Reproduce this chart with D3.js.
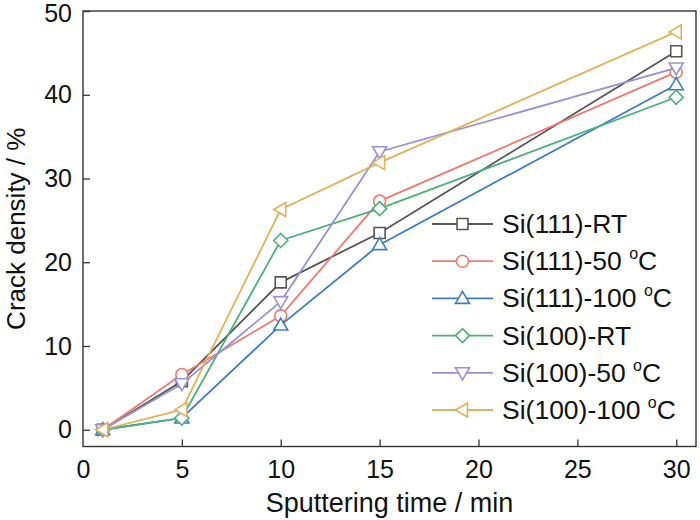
<!DOCTYPE html>
<html><head><meta charset="utf-8">
<script src="https://cdn.jsdelivr.net/npm/d3@7"></script>
<style>body{margin:0;background:#fff}svg{display:block;font-family:"Liberation Sans",Arial,sans-serif}</style>
</head><body><svg id="c" width="700" height="520"></svg>
<script>
const times = [1, 5, 10, 15, 30];
const xTicks = [0, 5, 10, 15, 20, 25, 30];
const yTicks = [0, 10, 20, 30, 40, 50];
const seriesNames = ["Si(111)-RT", "Si(111)-50 °C", "Si(111)-100 °C", "Si(100)-RT", "Si(100)-50 °C", "Si(100)-100 °C"];
const si111RT  = [0, 5.8, 17.6, 23.5, 45.2];
const si111_50 = [0, 6.6, 13.6, 27.3, 42.7];
const si111_100 = [0, 1.4, 12.5, 22.1, 41.2];
const si100RT  = [0, 1.4, 22.6, 26.4, 39.7];
const si100_50 = [0, 5.5, 15.3, 33.2, 43.2];
const si100_100 = [0, 2.4, 26.3, 31.9, 47.5];
const seriesValues = [si111RT, si111_50, si111_100, si100RT, si100_50, si100_100];
const colors = ["#555555", "#ee7b6f", "#3d7cc4", "#4daf7c", "#9a90d4", "#e3b15c"];
const markerTypes = ["square", "circle", "up", "diamond", "down", "left"];

const svg = d3.select("#c");
const L = 83, R = 696, T = 11, B = 446.5;
const x = d3.scaleLinear().domain([0, 31]).range([L, R]);
const y = d3.scaleLinear().domain([-2, 50]).range([B, T]);

function markerPath(t) {
  const p = d3.path();
  if (t === "square") { p.rect(-5.5, -5.5, 11, 11); }
  else if (t === "circle") { p.arc(0, 0, 6, 0, 2 * Math.PI); }
  else if (t === "up") { p.moveTo(0, -7); p.lineTo(7, 5); p.lineTo(-7, 5); p.closePath(); }
  else if (t === "down") { p.moveTo(0, 7); p.lineTo(7, -5); p.lineTo(-7, -5); p.closePath(); }
  else if (t === "diamond") { p.moveTo(0, -7); p.lineTo(7, 0); p.lineTo(0, 7); p.lineTo(-7, 0); p.closePath(); }
  else if (t === "left") { p.moveTo(-7, 0); p.lineTo(5, -7); p.lineTo(5, 7); p.closePath(); }
  return p.toString();
}

// axes
const ax = svg.append("g").attr("transform", `translate(0,${B})`)
  .call(d3.axisBottom(x).tickValues(xTicks).tickSize(-7).tickPadding(14).tickSizeOuter(0));
const ay = svg.append("g").attr("transform", `translate(${L},0)`)
  .call(d3.axisLeft(y).tickValues(yTicks).tickSize(-7).tickPadding(11).tickSizeOuter(0));
[ax, ay].forEach(g => {
  g.select(".domain").remove();
  g.selectAll("line").attr("stroke", "#333").attr("stroke-width", 1.3);
  g.selectAll("text").attr("font-size", 25).attr("fill", "#111").attr("font-family", '"Liberation Sans",Arial,sans-serif');
});
ax.selectAll(".tick").filter(d => d === 0).select("line").remove();
ay.selectAll(".tick").filter(d => d === 50).select("text").attr("dy", "0.42em");

svg.append("rect").attr("x", L).attr("y", T).attr("width", R - L).attr("height", B - T)
  .attr("fill", "none").attr("stroke", "#333").attr("stroke-width", 1.4);

// series
const line = d3.line().x((d, i) => x(times[i])).y(d => y(d));
seriesValues.forEach((vals, s) => {
  const g = svg.append("g");
  g.append("path").datum(vals).attr("d", line).attr("fill", "none")
    .attr("stroke", colors[s]).attr("stroke-width", 1.8);
  g.selectAll("path.m").data(vals).join("path").attr("class", "m")
    .attr("transform", (d, i) => `translate(${x(times[i])},${y(d)})`)
    .attr("d", markerPath(markerTypes[s]))
    .attr("fill", "#fff").attr("stroke", colors[s]).attr("stroke-width", 1.6);
});

// legend
const lg = svg.append("g");
seriesNames.forEach((name, s) => {
  const cy = 224 + s * 37.2;
  lg.append("line").attr("x1", 432).attr("x2", 493).attr("y1", cy).attr("y2", cy)
    .attr("stroke", colors[s]).attr("stroke-width", 1.8);
  lg.append("path").attr("transform", `translate(462.5,${cy})`).attr("d", markerPath(markerTypes[s]))
    .attr("fill", "#fff").attr("stroke", colors[s]).attr("stroke-width", 1.6);
  const t = lg.append("text").attr("x", 502).attr("y", cy + 9).attr("font-size", 26.5).attr("fill", "#111");
  if (name.includes("°")) {
    const parts = name.split("°");
    t.append("tspan").text(parts[0]);
    t.append("tspan").attr("font-size", 16).attr("dy", -11).text("o");
    t.append("tspan").attr("dy", 11).text(parts[1]);
  } else t.text(name);
});

// titles
svg.append("text").attr("x", (L + R) / 2).attr("y", 512).attr("text-anchor", "middle")
  .attr("font-size", 27).attr("fill", "#111").text("Sputtering time / min");
svg.append("text").attr("transform", `translate(25,${(T + B) / 2}) rotate(-90)`).attr("text-anchor", "middle")
  .attr("font-size", 26).attr("fill", "#111").text("Crack density / %");
</script></body></html>
